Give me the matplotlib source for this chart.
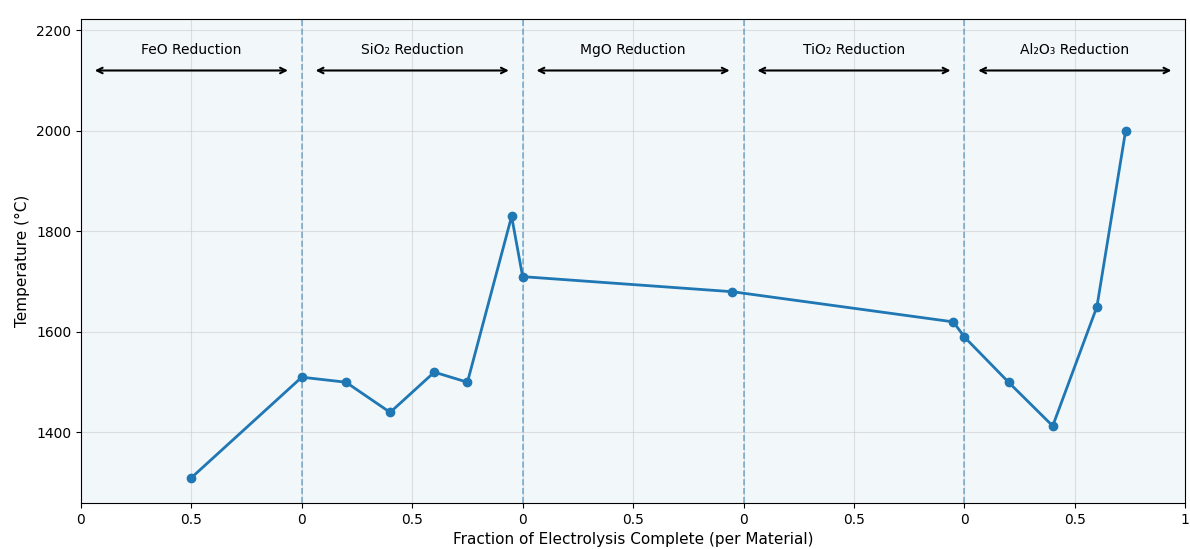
import numpy as np
import matplotlib
matplotlib.use("Agg")
import matplotlib.pyplot as plt

# stage labels and path through the five reduction stages
stages = ["FeO Reduction", "SiO₂ Reduction", "MgO Reduction",
          "TiO₂ Reduction", "Al₂O₃ Reduction"]
x_pos = [0.5, 1.0, 1.2, 1.4, 1.6, 1.75, 1.95, 2.0, 2.95, 3.95, 4.0, 4.2, 4.4, 4.6, 4.73]
temp_c = [1310, 1510, 1500, 1440, 1520, 1500, 1830, 1710, 1680, 1620, 1590, 1500, 1413, 1650, 2000]
tick_pos = np.arange(0, 5.01, 0.5)
tick_lbl = ["0", "0.5", "0", "0.5", "0", "0.5", "0", "0.5", "0", "0.5", "1"]

fig = plt.figure(figsize=(11.9, 5.49), dpi=100)
ax = fig.add_axes([0.068, 0.084, 0.928, 0.881])
ax.set_facecolor("#f2f7fa")

ax.plot(x_pos, temp_c, "-o", color="#1f77b4", lw=2, ms=6, zorder=3)

for b in range(1, 5):
    ax.axvline(b, color="#1f77b4", ls="--", lw=1.2, alpha=0.55)

for i, name in enumerate(stages):
    ax.annotate("", xy=(i + 0.95, 2120), xytext=(i + 0.05, 2120),
                arrowprops=dict(arrowstyle="<->", color="black", lw=1.5))
    ax.text(i + 0.5, 2160, name, ha="center", va="center", fontsize=10)

ax.set_xlim(0, 5)
ax.set_ylim(1260, 2222)
ax.set_yticks([1400, 1600, 1800, 2000, 2200])
ax.set_xticks(tick_pos)
ax.set_xticklabels(tick_lbl)
ax.grid(True, color="#cccccc", alpha=0.6, lw=0.8)
ax.set_axisbelow(True)
ax.set_xlabel("Fraction of Electrolysis Complete (per Material)", fontsize=11)
ax.set_ylabel("Temperature (°C)", fontsize=11)

plt.savefig("out.png", dpi=100)
